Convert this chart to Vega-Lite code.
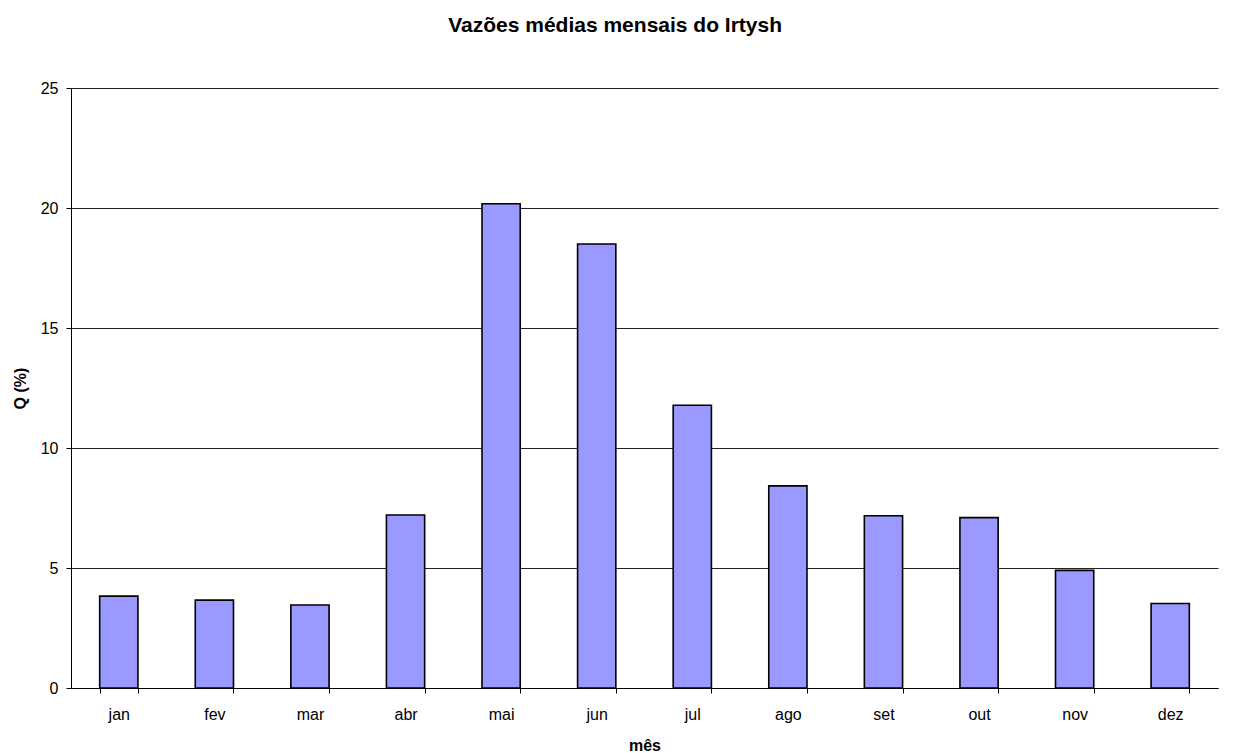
{
  "$schema": "https://vega.github.io/schema/vega-lite/v6.json",
  "width": 1147,
  "height": 600,
  "autosize": "none",
  "padding": {"left": 71, "top": 88, "right": 15, "bottom": 65},
  "background": "white",
  "title": {
    "text": "Vazões médias mensais do Irtysh",
    "font": "Liberation Sans",
    "fontSize": 21,
    "fontWeight": "bold",
    "color": "black",
    "offset": 44,
    "anchor": "middle",
    "frame": "bounds"
  },
  "data": {
    "values": [
      {"mes": "jan", "q": 3.83},
      {"mes": "fev", "q": 3.66},
      {"mes": "mar", "q": 3.46},
      {"mes": "abr", "q": 7.21},
      {"mes": "mai", "q": 20.18},
      {"mes": "jun", "q": 18.5},
      {"mes": "jul", "q": 11.78},
      {"mes": "ago", "q": 8.42},
      {"mes": "set", "q": 7.18},
      {"mes": "out", "q": 7.1},
      {"mes": "nov", "q": 4.9},
      {"mes": "dez", "q": 3.52}
    ]
  },
  "mark": {"type": "bar", "fill": "#9999FF", "stroke": "black", "strokeWidth": 1.6},
  "encoding": {
    "x": {
      "field": "mes",
      "type": "nominal",
      "sort": null,
      "scale": {"paddingInner": 0.6, "paddingOuter": 0.3},
      "axis": {
        "title": "mês",
        "titleFont": "Liberation Sans",
        "titleFontSize": 16,
        "titleFontWeight": "bold",
        "titleColor": "black",
        "titlePadding": 15,
        "labelFont": "Liberation Sans",
        "labelFontSize": 16,
        "labelColor": "black",
        "labelAngle": 0,
        "labelPadding": 13,
        "tickBand": "extent",
        "tickColor": "black",
        "tickSize": 5,
        "domainColor": "black",
        "grid": false
      }
    },
    "y": {
      "field": "q",
      "type": "quantitative",
      "scale": {"domain": [0, 25], "nice": false},
      "axis": {
        "title": "Q (%)",
        "values": [0, 5, 10, 15, 20, 25],
        "titleFont": "Liberation Sans",
        "titleFontSize": 16,
        "titleFontWeight": "bold",
        "titleColor": "black",
        "titlePadding": 12,
        "labelFont": "Liberation Sans",
        "labelFontSize": 16,
        "labelColor": "black",
        "labelPadding": 8,
        "tickColor": "black",
        "tickSize": 5,
        "domainColor": "black",
        "gridColor": "#222222",
        "gridWidth": 1,
        "gridOpacity": 1
      }
    }
  },
  "config": {"view": {"stroke": null}}
}
